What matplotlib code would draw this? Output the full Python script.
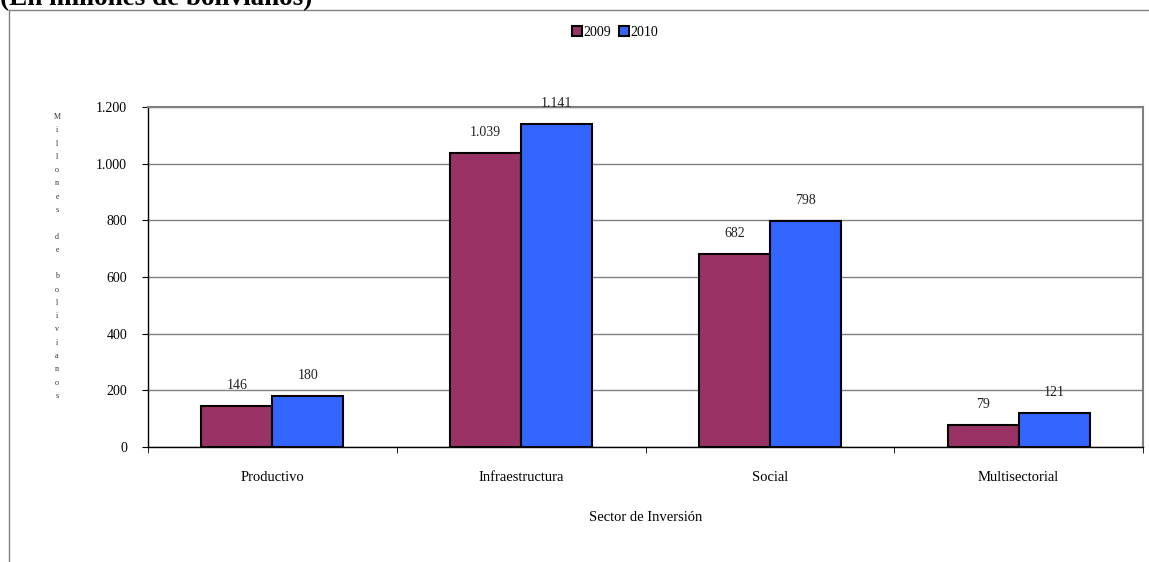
import numpy as np
import matplotlib.pyplot as plt
from matplotlib.lines import Line2D

plt.rcParams['font.family'] = ['Liberation Serif', 'DejaVu Serif']

sectores = ['Productivo', 'Infraestructura', 'Social', 'Multisectorial']
anios = ['2009', '2010']
valores_2009 = [146, 1039, 682, 79]
valores_2010 = [180, 1141, 798, 121]
y_ticks = [0, 200, 400, 600, 800, 1000, 1200]

colores = ['#993366', '#3366FF']


def fmt(v):
    return '{:,}'.format(v).replace(',', '.')


fig = plt.figure(figsize=(11.49, 5.62), dpi=100)

# marco exterior del grafico (recortado)
fig.add_artist(Line2D([9 / 1149, 9 / 1149], [0, 1 - 9.5 / 562], transform=fig.transFigure,
                      color='#808080', lw=1))
fig.add_artist(Line2D([9 / 1149, 1], [1 - 9.5 / 562, 1 - 9.5 / 562], transform=fig.transFigure,
                      color='#808080', lw=1))
fig.text(0.0, 1 - 5 / 562, '(En millones de bolivianos)', fontsize=19.5, fontweight='bold',
         ha='left', va='baseline')

ax = fig.add_axes([148 / 1149, 1 - 447 / 562, (1143 - 148) / 1149, (447 - 107) / 562])

x = np.arange(len(sectores))
w = 0.285
b1 = ax.bar(x - w / 2, valores_2009, w, color=colores[0], edgecolor='black', lw=1.5,
            label=anios[0], zorder=3)
b2 = ax.bar(x + w / 2, valores_2010, w, color=colores[1], edgecolor='black', lw=1.5,
            label=anios[1], zorder=3)

for bars, vals in [(b1, valores_2009), (b2, valores_2010)]:
    for r, v in zip(bars, vals):
        ax.annotate(fmt(v), (r.get_x() + r.get_width() / 2, v), xytext=(0, 10),
                    textcoords='offset points', ha='center', va='bottom', fontsize=10,
                    color='#222222')

ax.set_xlim(-0.5, len(sectores) - 0.5)
ax.set_ylim(0, 1200)
ax.set_yticks(y_ticks)
ax.set_yticklabels([fmt(v) for v in y_ticks])
ax.set_xticks(x)
ax.set_xticklabels(sectores)
ax.set_xticks(np.arange(len(sectores) + 1) - 0.5, minor=True)
ax.tick_params(axis='x', which='major', length=0, pad=17, labelsize=10.5)
ax.tick_params(axis='x', which='minor', length=4, direction='out')
ax.tick_params(axis='y', length=4, direction='out', pad=11, labelsize=10)

ax.grid(axis='y', color='#808080', lw=1, zorder=0)
ax.spines['top'].set_color('#808080')
ax.spines['right'].set_color('#808080')
ax.spines['top'].set_linewidth(1.5)
ax.spines['right'].set_linewidth(1.5)
ax.spines['left'].set_linewidth(1)
ax.spines['bottom'].set_linewidth(1)

ax.set_xlabel('Sector de Inversión', fontsize=10.5, labelpad=20)

etiqueta = 'Millones de bolivianos'
fig.text(57 / 1149, 1 - 113 / 562, '\n'.join(etiqueta), fontsize=5.8, ha='center',
         va='top', linespacing=1.88, color='#333333')

fig.legend(handles=[b1, b2], labels=anios, loc='center', bbox_to_anchor=(615 / 1149, 1 - 32 / 562),
           ncol=2, frameon=False, fontsize=10, handlelength=0.7, handleheight=0.7,
           handletextpad=0.1, columnspacing=0.6)

fig.savefig('out.png', dpi=100)
